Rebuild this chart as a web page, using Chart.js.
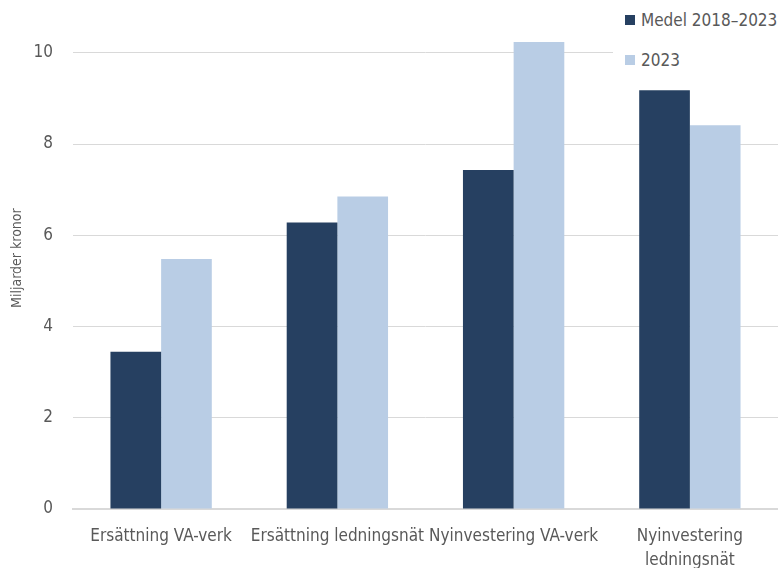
<!DOCTYPE html>
<html>
<head>
<meta charset="utf-8">
<script src="https://cdn.jsdelivr.net/npm/chart.js@4/dist/chart.umd.min.js"></script>
<style>
  html, body { margin: 0; padding: 0; background: #ffffff; }
  #wrap { position: relative; width: 778px; height: 568px; overflow: hidden; }
  canvas { display: block; }
  #legend {
    position: absolute; left: 613px; top: 0px; background: #ffffff;
    font-family: "DejaVu Sans Condensed", sans-serif;
    font-size: 17px; color: #595959; padding: 0 4px 2px 12px; white-space: nowrap;
  }
  .item { display: flex; align-items: center; height: 40px; }
  .sw { width: 10px; height: 10px; margin-right: 6px; }
</style>
</head>
<body>
<div id="wrap">
  <canvas id="c" width="778" height="568"></canvas>
  <div id="legend"></div>
</div>
<script>
const categories = [
  "Ersättning VA-verk",
  "Ersättning ledningsnät",
  "Nyinvestering VA-verk",
  ["Nyinvestering", "ledningsnät"]
];
const seriesNames = ["Medel 2018–2023", "2023"];
const medel = [3.45, 6.28, 7.43, 9.18];
const year2023 = [5.48, 6.85, 10.24, 8.41];
const yTicks = [0, 2, 4, 6, 8, 10];
const colors = ["#264061", "#b9cde5"];

const FONT = '"DejaVu Sans Condensed", sans-serif';
const TEXT = "#595959";

// Legend drawn as HTML over the top-right corner
const legendEl = document.getElementById("legend");
seriesNames.forEach((name, i) => {
  const row = document.createElement("div");
  row.className = "item";
  const sw = document.createElement("span");
  sw.className = "sw";
  sw.style.background = colors[i];
  const label = document.createElement("span");
  label.textContent = name;
  row.appendChild(sw);
  row.appendChild(label);
  legendEl.appendChild(row);
});

new Chart(document.getElementById("c"), {
  type: "bar",
  data: {
    labels: categories,
    datasets: [
      { label: seriesNames[0], data: medel, backgroundColor: colors[0] },
      { label: seriesNames[1], data: year2023, backgroundColor: colors[1] }
    ]
  },
  options: {
    responsive: false,
    animation: false,
    layout: { padding: { top: 7, right: 0, left: 8, bottom: 0 } },
    datasets: { bar: { categoryPercentage: 0.575, barPercentage: 1 } },
    plugins: { legend: { display: false }, tooltip: { enabled: false } },
    scales: {
      x: {
        afterFit: (axis) => { axis.height = 59; },
        grid: { display: false, drawTicks: false },
        border: { color: "#d9d9d9", width: 2 },
        ticks: {
          color: TEXT, font: { family: FONT, size: 17, lineHeight: 1.4 }, padding: 16,
          maxRotation: 0, autoSkip: false
        }
      },
      y: {
        min: 0, max: 11,
        afterBuildTicks: (axis) => { axis.ticks = yTicks.map(v => ({ value: v })); },
        afterFit: (axis) => { axis.width = 65; },
        grid: { color: "#d9d9d9", lineWidth: 1, drawTicks: true, tickLength: 20, tickColor: "rgba(0,0,0,0)" },
        border: { display: false },
        ticks: { color: TEXT, font: { family: FONT, size: 17, lineHeight: 0.85 }, padding: 0 },
        title: {
          display: true, text: "Miljarder kronor", color: TEXT,
          font: { family: FONT, size: 14 }, padding: { top: 1, bottom: 0 }
        }
      }
    }
  }
});
</script>
</body>
</html>
